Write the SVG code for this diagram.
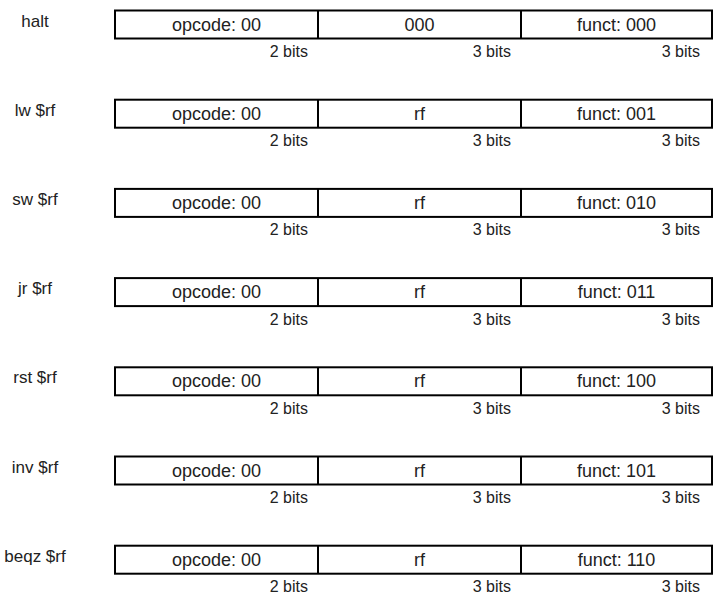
<svg xmlns="http://www.w3.org/2000/svg" width="727" height="604" viewBox="0 0 727 604">
<style>
text{font-family:"Liberation Sans",Arial,sans-serif;fill:#222}
.c{font-size:18px;text-anchor:middle}
.l{font-size:17px;text-anchor:middle}
.b{font-size:16px;text-anchor:end}
.box{fill:#fff;stroke:#000;stroke-width:2}
.div{stroke:#000;stroke-width:2}
</style>
<defs>
<g id="frame">
<rect class="box" x="115" y="0" width="597" height="28"/>
<line class="div" x1="318" y1="0" x2="318" y2="28"/>
<line class="div" x1="521" y1="0" x2="521" y2="28"/>
<text class="c" x="216.5" y="20">opcode: 00</text>
<text class="b" x="308" y="46.5">2 bits</text>
<text class="b" x="511" y="46.5">3 bits</text>
<text class="b" x="700" y="46.5">3 bits</text>
</g>
</defs>
<g id="halt" transform="translate(0,10.5)">
<use href="#frame"/>
<text class="l" x="35" y="16">halt</text>
<text class="c" x="419.5" y="20">000</text>
<text class="c" x="616.5" y="20">funct: 000</text>
</g>
<g id="lw" transform="translate(0,99.7)">
<use href="#frame"/>
<text class="l" x="35" y="16">lw $rf</text>
<text class="c" x="419.5" y="20">rf</text>
<text class="c" x="616.5" y="20">funct: 001</text>
</g>
<g id="sw" transform="translate(0,188.9)">
<use href="#frame"/>
<text class="l" x="35" y="16">sw $rf</text>
<text class="c" x="419.5" y="20">rf</text>
<text class="c" x="616.5" y="20">funct: 010</text>
</g>
<g id="jr" transform="translate(0,278.1)">
<use href="#frame"/>
<text class="l" x="35" y="16">jr $rf</text>
<text class="c" x="419.5" y="20">rf</text>
<text class="c" x="616.5" y="20">funct: 011</text>
</g>
<g id="rst" transform="translate(0,367.3)">
<use href="#frame"/>
<text class="l" x="35" y="16">rst $rf</text>
<text class="c" x="419.5" y="20">rf</text>
<text class="c" x="616.5" y="20">funct: 100</text>
</g>
<g id="inv" transform="translate(0,456.5)">
<use href="#frame"/>
<text class="l" x="35" y="16">inv $rf</text>
<text class="c" x="419.5" y="20">rf</text>
<text class="c" x="616.5" y="20">funct: 101</text>
</g>
<g id="beqz" transform="translate(0,545.7)">
<use href="#frame"/>
<text class="l" x="35" y="16">beqz $rf</text>
<text class="c" x="419.5" y="20">rf</text>
<text class="c" x="616.5" y="20">funct: 110</text>
</g>
</svg>
